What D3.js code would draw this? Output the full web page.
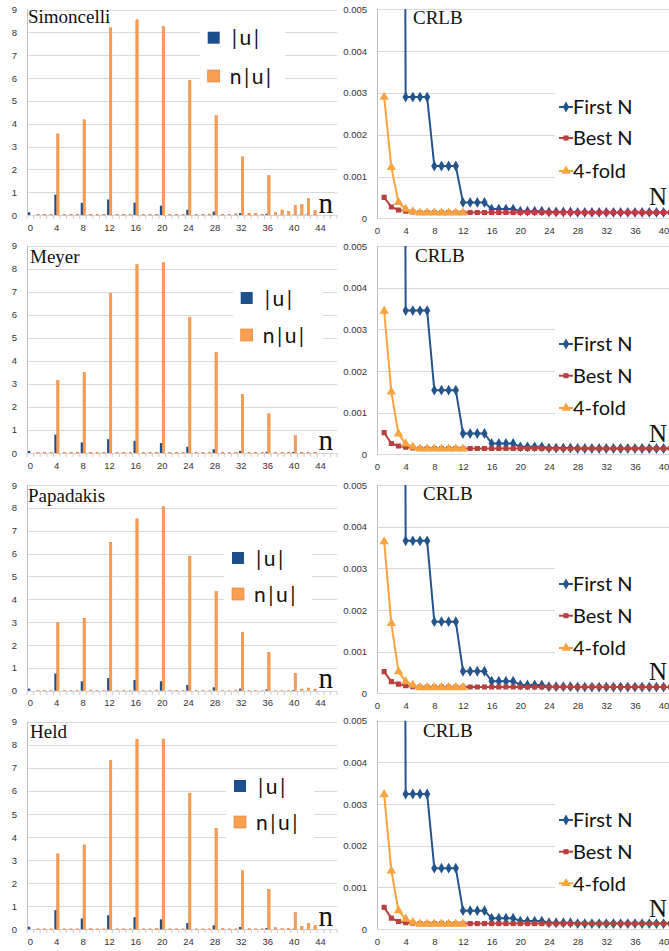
<!DOCTYPE html>
<html><head><meta charset="utf-8">
<script src="https://cdn.jsdelivr.net/npm/d3@7"></script>
<style>body{margin:0;background:#fff}svg{display:block}</style>
</head><body>
<svg id="c" width="669" height="951"></svg>
<script>
// ---------------- DATA ----------------
const panelNames = ["Simoncelli", "Meyer", "Papadakis", "Held"];
const categories = d3.range(0, 47);          // n = 0..46
const barTickLabels = [0,4,8,12,16,20,24,28,32,36,40,44];
const barYTicks = [0,1,2,3,4,5,6,7,8,9];
const barSeriesNames = ["|u|", "n|u|"];

// |u| per n (0..46)
const uSimoncelli = [0.12,0.005,0.005,0.005,0.89,0.005,0.005,0.005,0.53,0.004,0.004,0.004,0.68,0.004,0.004,0.004,0.54,0.003,0.003,0.003,0.41,0.003,0.003,0.003,0.23,0.002,0.002,0.002,0.15,0.002,0.002,0.002,0.08,0.002,0.002,0.002,0.05,0.003,0.006,0.004,0.01,0.011,0.017,0.005,0,0,0];
const nuSimoncelli = [0,0.02,0.02,0.02,3.55,0.02,0.02,0.02,4.17,0.03,0.02,0.02,8.2,0.02,0.02,0.02,8.55,0.02,0.02,0.03,8.25,0.02,0.02,0.03,5.9,0.02,0.03,0.04,4.35,0.03,0.03,0.05,2.55,0.08,0.08,0.03,1.72,0.12,0.22,0.15,0.42,0.45,0.72,0.2,0,0,0];
const uMeyer = [0.09,0.003,0.003,0.003,0.8,0.003,0.003,0.003,0.46,0.003,0.003,0.003,0.6,0.003,0.003,0.003,0.53,0.003,0.003,0.003,0.43,0.003,0.003,0.003,0.27,0.002,0.002,0.002,0.16,0.002,0.002,0.002,0.09,0.002,0.002,0.002,0.05,0.001,0.001,0.001,0.04,0.001,0.001,0.001,0,0,0];
const nuMeyer = [0,0.02,0.02,0.02,3.14,0.02,0.02,0.02,3.5,0.03,0.02,0.02,6.92,0.02,0.02,0.02,8.17,0.02,0.02,0.03,8.26,0.02,0.02,0.02,5.88,0.03,0.02,0.02,4.35,0.03,0.02,0.02,2.54,0.03,0.02,0.02,1.7,0.03,0.02,0.02,0.75,0.03,0.03,0.02,0,0,0];
const uPapadakis = [0.09,0.003,0.003,0.003,0.75,0.003,0.003,0.003,0.41,0.003,0.003,0.003,0.55,0.003,0.003,0.003,0.47,0.003,0.003,0.003,0.41,0.003,0.003,0.003,0.25,0.002,0.002,0.002,0.15,0.002,0.002,0.002,0.09,0.002,0.002,0.002,0.06,0.001,0.001,0.001,0.03,0.002,0.003,0.002,0,0,0];
const nuPapadakis = [0,0.02,0.02,0.02,2.97,0.02,0.02,0.02,3.16,0.03,0.02,0.02,6.49,0.02,0.02,0.02,7.52,0.02,0.02,0.03,8.05,0.02,0.02,0.02,5.89,0.02,0.02,0.02,4.33,0.02,0.02,0.03,2.54,0.02,0.02,0.02,1.68,0.02,0.02,0.02,0.76,0.07,0.12,0.07,0,0,0];
const uHeld = [0.11,0.003,0.003,0.003,0.83,0.003,0.003,0.003,0.47,0.003,0.003,0.003,0.61,0.003,0.003,0.003,0.53,0.003,0.003,0.003,0.43,0.003,0.003,0.003,0.27,0.002,0.002,0.002,0.17,0.002,0.002,0.002,0.1,0.002,0.002,0.002,0.06,0.002,0.001,0.001,0.02,0.003,0.006,0.004,0,0,0];
const nuHeld = [0,0.02,0.02,0.02,3.27,0.02,0.02,0.02,3.66,0.03,0.02,0.02,7.31,0.02,0.02,0.02,8.24,0.02,0.02,0.03,8.25,0.02,0.02,0.02,5.9,0.02,0.02,0.02,4.38,0.03,0.02,0.02,2.54,0.03,0.02,0.02,1.73,0.07,0.03,0.03,0.72,0.12,0.26,0.16,0,0,0];

// CRLB curves, N = 1..41 (null = no point)
const Nvalues = d3.range(1, 42);
const crlbXTicks = [0,4,8,12,16,20,24,28,32,36,40];
const crlbYTicks = [0,0.001,0.002,0.003,0.004,0.005];
const lineSeriesNames = ["First N", "Best N", "4-fold"];

const firstNSimoncelli = [null,null,0.05,0.0029,0.0029,0.0029,0.0029,0.00125,0.00125,0.00125,0.00125,0.00038,0.00038,0.00038,0.00038,0.00022,0.00022,0.00022,0.00022,0.00017,0.00017,0.00017,0.00017,0.00015,0.00015,0.00015,0.00015,0.00014,0.00014,0.00014,0.00014,0.00014,0.00014,0.00014,0.00014,0.00014,0.00014,0.00014,0.00014,0.00014,0.00014];
const bestNSimoncelli = [0.0005,0.00027,0.0002,0.00017,0.00015,0.00014,0.00014,0.00014,0.00014,0.00014,0.00014,0.00014,0.00014,0.00014,0.00014,0.00014,0.00014,0.00014,0.00014,0.00014,0.00014,0.00014,0.00014,0.00014,0.00014,0.00014,0.00014,0.00014,0.00014,0.00014,0.00014,0.00014,0.00014,0.00014,0.00014,0.00014,0.00014,0.00014,0.00014,0.00014,0.00014];
const fourFoldSimoncelli = [0.0029,0.00122,0.00038,0.00022,0.00016,0.00013,0.00013,0.00013,0.00013,0.00013,0.00013,0.00013,null,null,null,null,null,null,null,null,null,null,null,null,null,null,null,null,null,null,null,null,null,null,null,null,null,null,null,null,null];

const firstNMeyer = [null,null,0.05,0.00345,0.00345,0.00345,0.00345,0.00154,0.00154,0.00154,0.00154,0.0005,0.0005,0.0005,0.0005,0.00026,0.00026,0.00026,0.00026,0.00018,0.00018,0.00018,0.00018,0.00015,0.00015,0.00015,0.00015,0.00014,0.00014,0.00014,0.00014,0.00014,0.00014,0.00014,0.00014,0.00014,0.00014,0.00014,0.00014,0.00014,0.00014];
const bestNMeyer = [0.00052,0.00026,0.0002,0.00017,0.00015,0.00014,0.00014,0.00014,0.00014,0.00014,0.00014,0.00014,0.00014,0.00014,0.00014,0.00014,0.00014,0.00014,0.00014,0.00014,0.00014,0.00014,0.00014,0.00014,0.00014,0.00014,0.00014,0.00014,0.00014,0.00014,0.00014,0.00014,0.00014,0.00014,0.00014,0.00014,0.00014,0.00014,0.00014,0.00014,0.00014];
const fourFoldMeyer = [0.00344,0.0015,0.00049,0.00025,0.00018,0.00013,0.00013,0.00013,0.00013,0.00013,0.00013,0.00013,null,null,null,null,null,null,null,null,null,null,null,null,null,null,null,null,null,null,null,null,null,null,null,null,null,null,null,null,null];

const firstNPapadakis = [null,null,0.05,0.00366,0.00366,0.00366,0.00366,0.00172,0.00172,0.00172,0.00172,0.00053,0.00053,0.00053,0.00053,0.00029,0.00029,0.00029,0.00029,0.0002,0.0002,0.0002,0.0002,0.00016,0.00016,0.00016,0.00016,0.00015,0.00015,0.00015,0.00015,0.00015,0.00015,0.00015,0.00015,0.00015,0.00015,0.00015,0.00015,0.00015,0.00015];
const bestNPapadakis = [0.00052,0.00028,0.00022,0.00018,0.00016,0.00015,0.00015,0.00015,0.00015,0.00015,0.00015,0.00015,0.00015,0.00015,0.00015,0.00015,0.00015,0.00015,0.00015,0.00015,0.00015,0.00015,0.00015,0.00015,0.00015,0.00015,0.00015,0.00015,0.00015,0.00015,0.00015,0.00015,0.00015,0.00015,0.00015,0.00015,0.00015,0.00015,0.00015,0.00015,0.00015];
const fourFoldPapadakis = [0.00364,0.00168,0.00052,0.00028,0.0002,0.00014,0.00014,0.00014,0.00014,0.00014,0.00014,0.00014,null,null,null,null,null,null,null,null,null,null,null,null,null,null,null,null,null,null,null,null,null,null,null,null,null,null,null,null,null];

const firstNHeld = [null,null,0.05,0.00324,0.00324,0.00324,0.00324,0.00146,0.00146,0.00146,0.00146,0.00044,0.00044,0.00044,0.00044,0.00026,0.00026,0.00026,0.00026,0.00019,0.00019,0.00019,0.00019,0.00015,0.00015,0.00015,0.00015,0.00013,0.00013,0.00013,0.00013,0.00013,0.00013,0.00013,0.00013,0.00013,0.00013,0.00013,0.00013,0.00013,0.00013];
const bestNHeld = [0.00052,0.00026,0.00018,0.00015,0.00014,0.00013,0.00013,0.00013,0.00013,0.00013,0.00013,0.00013,0.00013,0.00013,0.00013,0.00013,0.00013,0.00013,0.00013,0.00013,0.00013,0.00013,0.00013,0.00013,0.00013,0.00013,0.00013,0.00013,0.00013,0.00013,0.00013,0.00013,0.00013,0.00013,0.00013,0.00013,0.00013,0.00013,0.00013,0.00013,0.00013];
const fourFoldHeld = [0.00323,0.0014,0.00044,0.00024,0.00016,0.00012,0.00012,0.00012,0.00012,0.00012,0.00012,0.00012,null,null,null,null,null,null,null,null,null,null,null,null,null,null,null,null,null,null,null,null,null,null,null,null,null,null,null,null,null];

const barData = [[uSimoncelli, nuSimoncelli],[uMeyer, nuMeyer],[uPapadakis, nuPapadakis],[uHeld, nuHeld]];
const lineData = [[firstNSimoncelli, bestNSimoncelli, fourFoldSimoncelli],[firstNMeyer, bestNMeyer, fourFoldMeyer],[firstNPapadakis, bestNPapadakis, fourFoldPapadakis],[firstNHeld, bestNHeld, fourFoldHeld]];

// ---------------- LAYOUT ----------------
const leftRows  = [{y9:9.5,y0:215},{y9:245.5,y0:453},{y9:485,y0:690.7},{y9:721.7,y0:929.3}];
const rightRows = [{yt:9.3,y0:218.3},{yt:246,y0:454.3},{yt:485,y0:693.3},{yt:720.7,y0:929}];
const leftLegend = [{x:213.7,y1:37.7,y2:76,bx:200,by:19,bw:85,bh:74},
                    {x:246.7,y1:298,y2:335,bx:233,by:281,bw:90,bh:72},
                    {x:238,y1:558,y2:594,bx:224,by:541,bw:88,bh:71},
                    {x:240,y1:786,y2:822,bx:226,by:769,bw:88,bh:71}];
const rightLegend = [[107,138,171],[344,375.7,408],[584,615.7,648],[820,851.7,883.3]];
const titlePos = [{x:28,y:23},{x:30,y:263},{x:28,y:502},{x:30,y:738}];
const crlbPos = [{x:413,y:24},{x:415,y:262},{x:423,y:500},{x:423,y:736.7}];
const nPos = [213,450,688,926];
const NPos = [205,441.7,680,916.7];

const colBlue = "#1d4f8c", colOrange = "#f8a04f", colOrangeStroke = "#e47b3a";
const lineCols = ["#23558c", "#b8413e", "#f9a33f"];
const gridCol = "#d9d9d9", axisCol = "#bfbfbf", tickText = "#333";

const svg = d3.select("#c");
svg.append("rect").attr("width",669).attr("height",951).attr("fill","#fff");
const defs = svg.append("defs");

panelNames.forEach((name, r) => {
  // ===== LEFT: bar chart =====
  const L = leftRows[r];
  const g = svg.append("g");
  const x = d3.scaleBand().domain(categories).range([27, 337]).padding(0);
  const xs = d3.scaleBand().domain([0,1]).range([0, x.bandwidth()]).paddingOuter(0.4).paddingInner(0);
  const y = d3.scaleLinear().domain([0, 9]).range([L.y0, L.y9]);

  g.append("g").selectAll("line").data(barYTicks).join("line")
    .attr("x1", 27).attr("x2", 337)
    .attr("y1", d => Math.round(y(d)) + 0.5).attr("y2", d => Math.round(y(d)) + 0.5)
    .attr("stroke", gridCol).attr("stroke-width", 1);
  g.append("line").attr("x1",27.5).attr("x2",27.5).attr("y1",y(9)).attr("y2",y(0)).attr("stroke",axisCol);

  // category tick marks
  g.append("g").selectAll("line").data(categories.concat([47])).join("line")
    .attr("x1", d => d < 47 ? x(d) : 337).attr("x2", d => d < 47 ? x(d) : 337)
    .attr("y1", Math.round(y(0))).attr("y2", Math.round(y(0)) + 4)
    .attr("stroke", axisCol).attr("stroke-width", 0.8);

  // y axis labels
  const ya = d3.axisLeft(y).tickValues(barYTicks).tickSize(0).tickPadding(0);
  g.append("g").attr("transform","translate(17,0)").call(ya)
    .call(s => s.select(".domain").remove())
    .selectAll("text").attr("font-family","Liberation Sans, Arial, sans-serif").attr("font-size",9.5).attr("fill",tickText);

  // x axis labels
  const xa = d3.axisBottom(x).tickValues(barTickLabels).tickSize(0).tickPadding(0);
  g.append("g").attr("transform",`translate(0,${y(0)+9})`).call(xa)
    .call(s => s.select(".domain").remove())
    .selectAll("text").attr("font-family","Liberation Sans, Arial, sans-serif").attr("font-size",9.5).attr("fill",tickText);

  // bars
  barData[r].forEach((vals, si) => {
    g.append("g").selectAll("rect").data(vals.map((v,i)=>({n:categories[i], v}))).join("rect")
      .attr("x", d => x(d.n) + xs(si))
      .attr("width", xs.bandwidth())
      .attr("y", d => y(d.v))
      .attr("height", d => y(0) - y(d.v))
      .attr("fill", si === 0 ? colBlue : colOrange)
      .attr("stroke", si === 0 ? "none" : colOrangeStroke)
      .attr("stroke-width", si === 0 ? 0 : 0.5);
  });

  // legend
  const LL = leftLegend[r];
  g.append("rect").attr("x",LL.bx).attr("y",LL.by).attr("width",LL.bw).attr("height",LL.bh).attr("fill","#fff");
  [LL.y1, LL.y2].forEach((yy, si) => {
    g.append("rect").attr("x", LL.x - 6).attr("y", yy - 6).attr("width", 12).attr("height", 12)
      .attr("fill", si === 0 ? colBlue : colOrange).attr("stroke", si===0?"none":colOrangeStroke).attr("stroke-width",0.6);
    g.append("text").attr("x", LL.x + (si===0?18:16)).attr("y", yy).attr("dy","0.36em")
      .attr("font-family","Lato, 'Open Sans', sans-serif").attr("font-size",21).attr("letter-spacing",2.5)
      .attr("fill","#111").text(barSeriesNames[si]);
  });

  // title and n
  g.append("text").attr("x", titlePos[r].x).attr("y", titlePos[r].y)
    .attr("font-family","'Liberation Serif', 'Times New Roman', serif").attr("font-size",19).attr("fill","#111").text(name);
  g.append("text").attr("x", 333).attr("y", nPos[r]).attr("text-anchor","end")
    .attr("font-family","'Liberation Serif', 'Times New Roman', serif").attr("font-size",29).attr("fill","#111").text("n");

  // ===== RIGHT: CRLB line chart =====
  const R = rightRows[r];
  const h = svg.append("g");
  const xr = d3.scaleLinear().domain([0, 40]).range([377, 663.6]);
  const yr = d3.scaleLinear().domain([0, 0.005]).range([R.y0, R.yt]);

  h.append("g").selectAll("line").data(crlbYTicks).join("line")
    .attr("x1", 377).attr("x2", 669)
    .attr("y1", d => Math.round(yr(d)) + 0.5).attr("y2", d => Math.round(yr(d)) + 0.5)
    .attr("stroke", gridCol);
  h.append("line").attr("x1",377.5).attr("x2",377.5).attr("y1",yr(0.005)).attr("y2",yr(0)).attr("stroke",axisCol);

  const fmt = d => d === 0 ? "0" : d3.format(".3f")(d);
  h.append("g").attr("transform","translate(367,0)")
    .call(d3.axisLeft(yr).tickValues(crlbYTicks).tickFormat(fmt).tickSize(0).tickPadding(0))
    .call(s => s.select(".domain").remove())
    .selectAll("text").attr("font-family","Liberation Sans, Arial, sans-serif").attr("font-size",9.5).attr("fill",tickText);
  h.append("g").attr("transform",`translate(0,${yr(0)+9})`)
    .call(d3.axisBottom(xr).tickValues(crlbXTicks).tickFormat(d3.format("d")).tickSize(0).tickPadding(0))
    .call(s => s.select(".domain").remove())
    .selectAll("text").attr("font-family","Liberation Sans, Arial, sans-serif").attr("font-size",9.5).attr("fill",tickText);

  const cid = "clip" + r;
  defs.append("clipPath").attr("id", cid).append("rect")
    .attr("x", 370).attr("y", yr(0.005)).attr("width", 300).attr("height", yr(0) - yr(0.005) + 6);
  const plot = h.append("g").attr("clip-path", `url(#${cid})`);

  const symbols = [d3.symbolDiamond, d3.symbolSquare, d3.symbolTriangle];
  const symSizes = [34, 26, 38];
  lineData[r].forEach((vals, si) => {
    const pts = vals.map((v,i)=>({N:Nvalues[i], v})).filter(d => d.v !== null);
    const line = d3.line().x(d => xr(d.N)).y(d => yr(d.v));
    plot.append("path").attr("d", line(pts)).attr("fill","none")
      .attr("stroke", lineCols[si]).attr("stroke-width", 2).attr("stroke-linejoin","round");
    plot.append("g").selectAll("path").data(pts).join("path")
      .attr("transform", d => `translate(${xr(d.N)},${yr(d.v)})`)
      .attr("d", d3.symbol().type(symbols[si]).size(symSizes[si]))
      .attr("fill", lineCols[si]);
  });

  // legend
  const RL = rightLegend[r];
  h.append("rect").attr("x",555).attr("y",RL[0]-17).attr("width",114).attr("height",RL[2]-RL[0]+33).attr("fill","#fff");
  RL.forEach((yy, si) => {
    h.append("line").attr("x1",559).attr("x2",573).attr("y1",yy).attr("y2",yy)
      .attr("stroke",lineCols[si]).attr("stroke-width",2);
    h.append("path").attr("transform",`translate(566,${yy})`)
      .attr("d", d3.symbol().type(symbols[si]).size(symSizes[si])).attr("fill", lineCols[si]);
    h.append("text").attr("x",573).attr("y",yy).attr("dy","0.36em")
      .attr("font-family","Lato, 'Open Sans', sans-serif").attr("font-size",20).attr("fill","#111")
      .text(lineSeriesNames[si]);
  });

  h.append("text").attr("x", crlbPos[r].x).attr("y", crlbPos[r].y)
    .attr("font-family","'Liberation Serif', 'Times New Roman', serif").attr("font-size",19).attr("fill","#111").text("CRLB");
  h.append("text").attr("x", 667).attr("y", NPos[r]).attr("text-anchor","end")
    .attr("font-family","'Liberation Serif', 'Times New Roman', serif").attr("font-size",25).attr("fill","#111").text("N");
});
</script>
</body></html>
